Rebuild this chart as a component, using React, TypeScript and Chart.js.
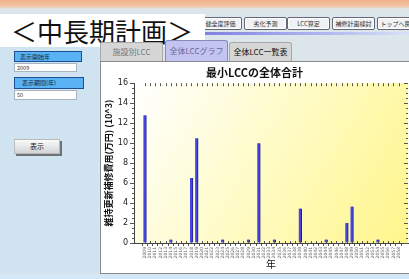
import React, { useEffect, useRef } from "react";
import { Chart, registerables } from "chart.js";

Chart.register(...registerables);

const YEARS = [
  2009, 2010, 2011, 2012, 2013, 2014, 2015, 2016, 2017, 2018,
  2019, 2020, 2021, 2022, 2023, 2024, 2025, 2026, 2027, 2028,
  2029, 2030, 2031, 2032, 2033, 2034, 2035, 2036, 2037, 2038,
  2039, 2040, 2041, 2042, 2043, 2044, 2045, 2046, 2047, 2048,
  2049, 2050, 2051, 2052, 2053, 2054, 2055, 2056, 2057, 2058,
];
const COSTS = [
  12.8, 0, 0, 0, 0, 0.35, 0, 0, 0, 6.5,
  10.5, 0, 0, 0, 0, 0.35, 0, 0, 0, 0,
  0.35, 0, 10.0, 0, 0, 0.35, 0, 0, 0, 0,
  3.45, 0, 0, 0, 0, 0.35, 0, 0, 0, 2.0,
  3.65, 0, 0, 0, 0, 0.35, 0, 0, 0, 0,
];
const Y_TICKS = [0, 2, 4, 6, 8, 10, 12, 14, 16];
const NAV_BUTTONS = ["健全度評価", "劣化予測", "LCC算定", "補修計画検討", "トップへ戻る"];
const TABS = ["施設別LCC", "全体LCCグラフ", "全体LCC一覧表"];
const START_YEAR = "2009";
const PERIOD = "50";

const JP = '"Noto Sans CJK JP", "Noto Sans", sans-serif';

const bgPlugin = {
  id: "plotBg",
  beforeDraw(chart: any) {
    const { ctx, chartArea: a } = chart;
    ctx.save();
    ctx.fillStyle = "#ffffff";
    ctx.fillRect(0, 0, chart.width, chart.height);
    const g = ctx.createLinearGradient(a.left, a.top, a.right, a.bottom);
    g.addColorStop(0, "#ffffff");
    g.addColorStop(0.5, "#fffbc4");
    g.addColorStop(1, "#fff68a");
    ctx.fillStyle = g;
    ctx.fillRect(a.left, a.top, a.right - a.left, a.bottom - a.top);
    ctx.restore();
  },
};

const tickPlugin = {
  id: "extraTicks",
  afterDraw(chart: any) {
    const { ctx, chartArea: a, scales } = chart;
    const x = scales.x;
    const y = scales.y;
    ctx.save();
    ctx.strokeStyle = "#555";
    ctx.lineWidth = 1;
    ctx.beginPath();
    const yMax = Y_TICKS[Y_TICKS.length - 1];
    for (let i = 0; i <= yMax * 2; i++) {
      const v = i / 2;
      const py = Math.round(y.getPixelForValue(v)) + 0.5;
      const major = Y_TICKS.includes(v);
      if (!major) {
        ctx.moveTo(a.left - 2, py);
        ctx.lineTo(a.left, py);
      }
      ctx.moveTo(a.right, py);
      ctx.lineTo(a.right - (major ? 4 : 2), py);
    }
    for (const yr of YEARS) {
      const px = Math.round(x.getPixelForValue(yr)) + 0.5;
      ctx.moveTo(px, a.top);
      ctx.lineTo(px, a.top + 3);
      ctx.moveTo(px, a.bottom - 2);
      ctx.lineTo(px, a.bottom);
    }
    ctx.stroke();
    ctx.restore();
  },
};

function LccChart() {
  const ref = useRef<HTMLCanvasElement | null>(null);
  useEffect(() => {
    if (!ref.current) return;
    const chart = new Chart(ref.current, {
      type: "bar",
      data: {
        datasets: [
          {
            data: YEARS.map((yr, i) => ({ x: yr, y: COSTS[i] })),
            backgroundColor: "#4646e8",
            borderColor: "#1c1c88",
            borderWidth: { left: 0, right: 1, top: 0, bottom: 0 },
            borderSkipped: false,
            barThickness: 3,
          } as any,
        ],
      },
      options: {
        animation: false,
        responsive: false,
        maintainAspectRatio: false,
        layout: { padding: { left: 0, right: 1, top: 0, bottom: 0 } },
        plugins: {
          legend: { display: false },
          tooltip: { enabled: false },
          title: {
            display: true,
            text: "最小LCCの全体合計",
            color: "#111",
            font: { family: JP, size: 11, weight: "bold" },
            padding: { top: 4, bottom: 4 },
          },
        },
        scales: {
          x: {
            type: "linear",
            min: 2007.43,
            max: 2059.3,
            afterBuildTicks: (scale: any) => {
              scale.ticks = YEARS.map((v) => ({ value: v }));
            },
            afterFit: (scale: any) => {
              scale.height = 29;
            },
            ticks: {
              autoSkip: false,
              minRotation: 90,
              maxRotation: 90,
              padding: 1,
              color: "#666",
              font: { family: "DejaVu Sans", size: 4.5 },
              callback: (v: any) => String(v),
            },
            grid: { display: true, drawOnChartArea: false, tickLength: 3, color: "#555" },
            border: { display: true, color: "#444" },
            title: {
              display: true,
              text: "年",
              color: "#111",
              font: { family: JP, size: 10 },
              padding: { top: 0, bottom: 2 },
            },
          },
          y: {
            min: 0,
            max: 16,
            afterBuildTicks: (scale: any) => {
              scale.ticks = Y_TICKS.map((v) => ({ value: v }));
            },
            afterFit: (scale: any) => {
              scale.width = 33;
            },
            ticks: {
              color: "#222",
              padding: 2,
              font: { family: "DejaVu Sans", size: 8 },
            },
            grid: { display: true, drawOnChartArea: false, tickLength: 4, color: "#555" },
            border: { display: true, color: "#444" },
            title: {
              display: true,
              text: "維持更新補修費用(万円) (10^3)",
              color: "#111",
              font: { family: JP, size: 9, weight: "bold" },
              padding: { top: 2, bottom: 0 },
            },
          },
        },
      },
      plugins: [bgPlugin, tickPlugin],
    } as any);
    return () => chart.destroy();
  }, []);
  return (
    <canvas
      ref={ref}
      width={308}
      height={210}
      style={{ position: "absolute", left: 101, top: 62, width: 308, height: 210 }}
    />
  );
}

export default function App() {
  const abs = (s: any) => ({ position: "absolute" as const, ...s });
  const navX = [199, 244, 287, 332, 377];
  const tabX = [100, 165, 229];
  return (
    <div
      style={{
        position: "fixed",
        left: 0,
        top: 0,
        width: 409,
        height: 279,
        overflow: "hidden",
        background: "#dce6ea",
        fontFamily: JP,
      }}
    >
      {/* top orange strip */}
      <div style={abs({ left: 0, top: 0, width: 409, height: 9, background: "linear-gradient(#eeb088, #f2c6a6 70%, #dce6ea)" })} />
      {/* nav buttons */}
      {NAV_BUTTONS.map((t, i) => (
        <div
          key={t}
          style={abs({
            left: navX[i],
            top: 17,
            width: 41,
            height: 11,
            border: "1px solid #667",
            borderRadius: 2,
            background: "#eef2f4",
            boxShadow: "inset 0 0 0 1px #fff",
            fontSize: 6,
            lineHeight: "11px",
            textAlign: "center",
            color: "#333",
            whiteSpace: "nowrap",
            overflow: "hidden",
          })}
        >
          {t}
        </div>
      ))}
      <div style={abs({ left: 200, top: 32, width: 209, height: 3, background: "linear-gradient(to right, #7f7fe0, #b0b8f0 60%, #d8e0f8)" })} />
      {/* title box */}
      <div
        style={abs({
          left: 0,
          top: 14,
          width: 205,
          height: 33,
          background: "#ffffff",
          fontSize: 26,
          lineHeight: "33px",
          color: "#111",
          paddingLeft: 11,
          boxSizing: "border-box",
          whiteSpace: "nowrap",
        })}
      >
        ＜中長期計画＞
      </div>
      {/* left panel */}
      <div style={abs({ left: 0, top: 47, width: 99, height: 226, background: "#cfe3f0" })} />
      <div style={abs({ left: 14, top: 51, width: 61, height: 9, background: "#58b2f4", border: "1px solid #1d4f96", fontSize: 6, lineHeight: "9px", color: "#102848", paddingLeft: 5, boxSizing: "content-box" as const, whiteSpace: "nowrap" })}>表示開始年</div>
      <div style={abs({ left: 14, top: 63, width: 63, height: 9, background: "#fff", border: "1px solid #a8b4c0", fontSize: 5.5, lineHeight: "9px", color: "#333", paddingLeft: 2, boxSizing: "border-box" as const })}>{START_YEAR}</div>
      <div style={abs({ left: 14, top: 77, width: 61, height: 10, background: "#58b2f4", border: "1px solid #1d4f96", fontSize: 6, lineHeight: "10px", color: "#102848", paddingLeft: 7, boxSizing: "content-box" as const, whiteSpace: "nowrap" })}>表示期間(年)</div>
      <div style={abs({ left: 14, top: 90, width: 63, height: 10, background: "#fff", border: "1px solid #a8b4c0", fontSize: 5.5, lineHeight: "9px", color: "#333", paddingLeft: 2, boxSizing: "border-box" as const })}>{PERIOD}</div>
      <div
        style={abs({
          left: 14,
          top: 139,
          width: 44,
          height: 13,
          background: "linear-gradient(#fafafa, #d2d4d6)",
          border: "1px solid #bbb",
          boxShadow: "2px 2px 0 #6c7278",
          fontSize: 7,
          lineHeight: "13px",
          textAlign: "center",
          color: "#222",
        })}
      >
        表示
      </div>
      {/* tabs */}
      {TABS.map((t, i) => (
        <div
          key={t}
          style={abs({
            left: tabX[i],
            top: i === 1 ? 40 : 42,
            width: 63,
            height: i === 1 ? 21 : 19,
            background: i === 1 ? "#c4c4f2" : "#d6d6d6",
            border: i === 1 ? "1px solid #8a8ab8" : "1px solid #a8a8a8",
            borderBottom: "none",
            borderRadius: "3px 3px 0 0",
            boxSizing: "border-box" as const,
            fontSize: 8,
            lineHeight: i === 1 ? "19px" : "17px",
            textAlign: "center",
            color: i === 2 ? "#111" : i === 1 ? "#6a6a9a" : "#777",
            whiteSpace: "nowrap",
          })}
        >
          {t}
        </div>
      ))}
      {/* chart panel */}
      <div style={abs({ left: 100, top: 61, width: 312, height: 213, background: "#fff", border: "1px solid #8a8a8a", boxSizing: "border-box" as const })} />
      <LccChart />
      {/* bottom strip */}
      <div style={abs({ left: 0, top: 274, width: 409, height: 5, background: "#d2e8f8" })} />
    </div>
  );
}
